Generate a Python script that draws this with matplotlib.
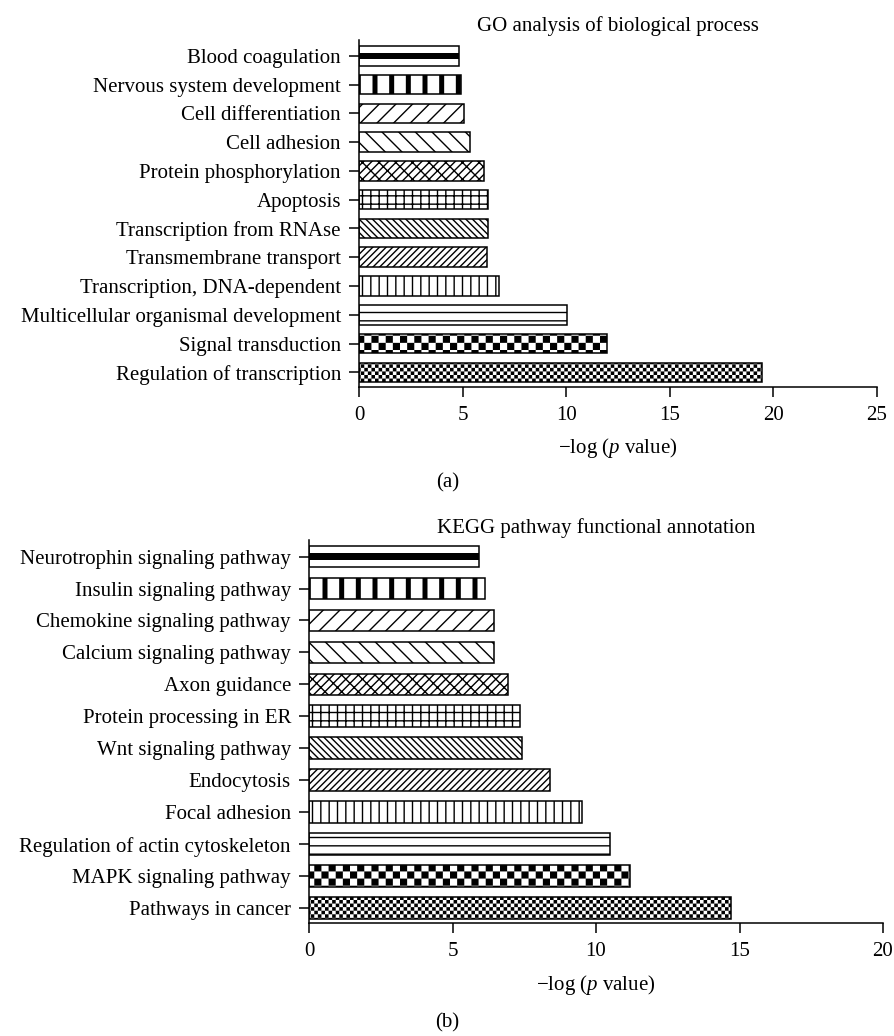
import numpy as np
import matplotlib
matplotlib.use("Agg")
import matplotlib.pyplot as plt
import matplotlib.hatch as mhatch
from matplotlib.path import Path

go_terms = ["Blood coagulation", "Nervous system development", "Cell differentiation",
            "Cell adhesion", "Protein phosphorylation", "Apoptosis",
            "Transcription from RNAse", "Transmembrane transport",
            "Transcription, DNA-dependent", "Multicellular organismal development",
            "Signal transduction", "Regulation of transcription"]
go_values = [4.83, 4.93, 5.06, 5.35, 6.05, 6.25, 6.25, 6.2, 6.78, 10.05, 11.96, 19.45]

kegg_terms = ["Neurotrophin signaling pathway", "Insulin signaling pathway",
              "Chemokine signaling pathway", "Calcium signaling pathway",
              "Axon guidance", "Protein processing in ER", "Wnt signaling pathway",
              "Endocytosis", "Focal adhesion", "Regulation of actin cytoskeleton",
              "MAPK signaling pathway", "Pathways in cancer"]
kegg_values = [5.93, 6.13, 6.44, 6.44, 6.94, 7.35, 7.43, 8.4, 9.5, 10.5, 11.2, 14.7]

# one fill style per rank, top to bottom
hatches = [None, "|", "//", "\\\\", "////\\\\", "++", "\\\\\\\\\\", "/////", "||", "--", "*", "**"]


# checkerboard hatch: replaces the star hatch, more '*' = smaller squares
class Checker(mhatch.HatchPatternBase):
    filled = True

    def __init__(self, hatch, density):
        self.n = hatch.count("*") * 14 * density // 6
        self.num_vertices = (self.n * self.n // 2) * 5

    def set_vertices_and_codes(self, vertices, codes):
        s = 1.0 / self.n
        k = 0
        for i in range(self.n):
            for j in range(self.n):
                if (i + j) % 2:
                    continue
                x0, y0 = i * s, j * s
                vertices[k:k + 5] = [[x0, y0], [x0 + s, y0], [x0 + s, y0 + s],
                                     [x0, y0 + s], [x0, y0]]
                codes[k:k + 5] = [Path.MOVETO, Path.LINETO, Path.LINETO,
                                  Path.LINETO, Path.CLOSEPOLY]
                k += 5


mhatch._hatch_types = [h for h in mhatch._hatch_types if h is not mhatch.Stars] + [Checker]

plt.rcParams["font.family"] = ["Liberation Serif", "DejaVu Serif"]
plt.rcParams["mathtext.fontset"] = "custom"
plt.rcParams["mathtext.rm"] = "Liberation Serif"
plt.rcParams["mathtext.it"] = "Liberation Serif:italic"
plt.rcParams["hatch.linewidth"] = 1.0

W, H = 895, 1036
FS = 15
fig = plt.figure(figsize=(W / 100, H / 100), dpi=100)


def draw_panel(ax, terms, values, title, xmax, ylim, tpad):
    n = len(terms)
    ypos = np.arange(n)[::-1]
    bars = ax.barh(ypos, values, height=0.68, color="white", edgecolor="black",
                   linewidth=1.1, zorder=2)
    for i, b in enumerate(bars):
        if hatches[i]:
            b.set_hatch(hatches[i])
        if hatches[i] == "|" and hasattr(b, "set_hatch_linewidth"):
            b.set_hatch_linewidth(3.6)
        if hatches[i] and "*" in hatches[i] and hasattr(b, "set_hatch_linewidth"):
            b.set_hatch_linewidth(0.0)
    # thick middle stripe on the first bar
    ax.barh(ypos[0], values[0], height=0.2, color="black", linewidth=0, zorder=3)
    ax.set_yticks(ypos)
    ax.set_yticklabels(terms)
    ax.set_xlim(0, xmax)
    ax.set_xticks(np.arange(0, xmax + 1, 5))
    ax.set_ylim(*ylim)
    ax.spines["top"].set_visible(False)
    ax.spines["right"].set_visible(False)
    ax.spines["left"].set_linewidth(1.1)
    ax.spines["bottom"].set_linewidth(1.1)
    ax.tick_params(direction="out", length=7, width=1.1, labelsize=FS)
    ax.tick_params(axis="y", pad=6)
    ax.tick_params(axis="x", pad=7)
    ax.set_xlabel(r"$-$log ($\mathit{p}$ value)", fontsize=FS, labelpad=8)
    ax.set_title(title, fontsize=FS, pad=tpad)


ax_a = fig.add_axes([359 / W, 1 - 386.7 / H, (877 - 359) / W, (386.7 - 40) / H])
draw_panel(ax_a, go_terms, go_values, "GO analysis of biological process", 25,
           (-0.5, 11.55), 6.5)

ax_b = fig.add_axes([309 / W, 1 - 923 / H, (883 - 309) / W, (923 - 540) / H])
draw_panel(ax_b, kegg_terms, kegg_values, "KEGG pathway functional annotation", 20,
           (-0.47, 11.52), 5)

fig.text(0.5, 1 - 483 / H, "(a)", ha="center", va="center", fontsize=FS)
fig.text(0.5, 1 - 1023 / H, "(b)", ha="center", va="center", fontsize=FS)

fig.savefig("out.png", dpi=100)
